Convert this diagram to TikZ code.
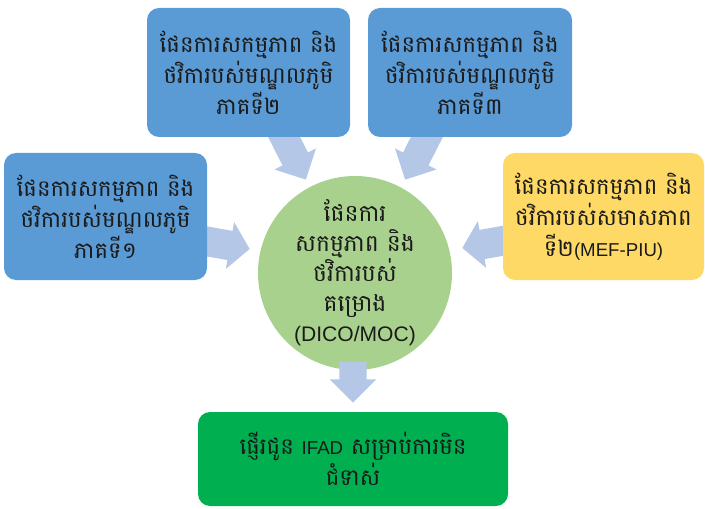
\documentclass[tikz,border=0pt]{standalone}
\usepackage{fontspec}
\usetikzlibrary{shapes.arrows}
\newfontfamily\kh[Script=Khmer]{Battambang}
\newfontfamily\lat{Liberation Sans}
\definecolor{boxblue}{HTML}{5B9BD5}
\definecolor{boxyellow}{HTML}{FFD966}
\definecolor{circgreen}{HTML}{A9D18E}
\definecolor{outgreen}{HTML}{00B050}
\definecolor{arrowblue}{HTML}{B4C7E7}
\definecolor{txt}{HTML}{1A1A1A}
\newcommand{\lt}[2][14]{{\lat\fontsize{#1}{23.25}\selectfont #2}}
\tikzset{
  box/.style={rectangle, rounded corners=9pt, inner sep=0pt, align=center,
    text=txt, font=\kh\fontsize{17.1}{23.25}\selectfont},
  blk/.style={single arrow, fill=arrowblue, draw=none, inner xsep=0pt, inner ysep=10.5pt,
    anchor=tip, minimum width=34.5pt, single arrow head extend=6.75pt}
}
\begin{document}
\begin{tikzpicture}[x=0.75pt,y=-0.75pt]
\useasboundingbox (0,0) rectangle (705,509);
% arrows under the boxes
\node[blk, minimum height=45pt, rotate=-63] (aTL) at (306,180) {};
\node[blk, minimum height=45pt, rotate=-117] (aTR) at (405,180) {};
\node[blk, minimum height=36pt, rotate=-10, inner ysep=10.9pt, minimum width=33.75pt, single arrow tip angle=100] (aL) at (250,249) {};
\node[blk, minimum height=36pt, rotate=190, inner ysep=10.9pt, minimum width=33.75pt, single arrow tip angle=100] (aR) at (462,248) {};
% boxes
\node[box, fill=boxblue, minimum width=152.25pt, minimum height=96.75pt] (b2) at (248.5,72.5)
  {ផែនការសកម្មភាព និង\\ថវិការបស់មណ្ឌលភូមិ\\ភាគទី២};
\node[box, fill=boxblue, minimum width=153pt, minimum height=96.75pt] (b3) at (470,72.5)
  {ផែនការសកម្មភាព និង\\ថវិការបស់មណ្ឌលភូមិ\\ភាគទី៣};
\node[box, fill=boxblue, minimum width=152.25pt, minimum height=95.25pt] (b1) at (105.5,216.5)
  {ផែនការសកម្មភាព និង\\ថវិការបស់មណ្ឌលភូមិ\\ភាគទី១};
\node[box, fill=boxyellow, minimum width=150.75pt, minimum height=95.25pt] (b4) at (603.5,216.5)
  {ផែនការសកម្មភាព និង\\ថវិការបស់សមាសភាព\\ទី២\lt{(MEF-PIU)}};
\node[box, circle, fill=circgreen, minimum size=145.5pt, font=\kh\fontsize{17.6}{22.5}\selectfont] (c) at (355,273)
  {ផែនការ\\សកម្មភាព និង\\ថវិការបស់\\គម្រោង\\\lt[15.8]{(DICO/MOC)}};
\node[box, fill=outgreen, minimum width=232.5pt, minimum height=70.5pt] (out) at (353,459)
  {ផ្ញើរជូន \lt{IFAD} សម្រាប់ការមិន\\ជំទាស់};
% down arrow over circle
\node[blk, minimum height=30.75pt, inner ysep=10pt, minimum width=34.5pt, single arrow head extend=7.25pt, rotate=-90] (aD) at (353,403) {};
\end{tikzpicture}
\end{document}
